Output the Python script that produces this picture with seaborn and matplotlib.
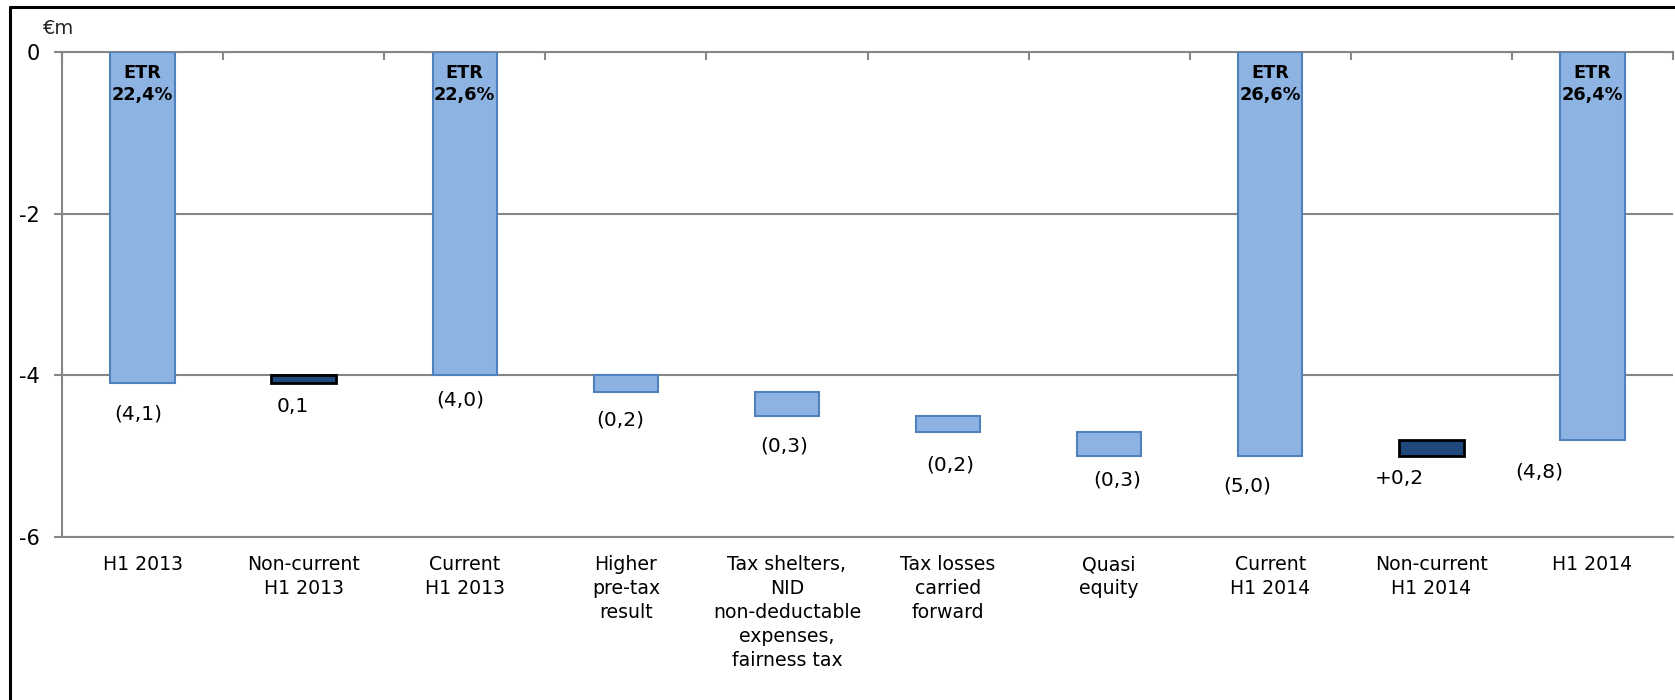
import matplotlib
matplotlib.use("Agg")
import numpy as np
import pandas as pd
import seaborn as sns
import matplotlib.pyplot as plt
from matplotlib.lines import Line2D

# ---------------- data ----------------
categories = [
    "H1 2013",
    "Non-current\nH1 2013",
    "Current\nH1 2013",
    "Higher\npre-tax\nresult",
    "Tax shelters,\nNID\nnon-deductable\nexpenses,\nfairness tax",
    "Tax losses\ncarried\nforward",
    "Quasi\nequity",
    "Current\nH1 2014",
    "Non-current\nH1 2014",
    "H1 2014",
]
start_values = [0, -4.1, 0, -4.0, -4.2, -4.5, -4.7, 0, -5.0, 0]
end_values = [-4.1, -4.0, -4.0, -4.2, -4.5, -4.7, -5.0, -5.0, -4.8, -4.8]
bar_kinds = ["light", "dark", "light", "light", "light", "light", "light", "light", "dark", "light"]
value_labels = ["(4,1)", "0,1", "(4,0)", "(0,2)", "(0,3)", "(0,2)", "(0,3)", "(5,0)", "+0,2", "(4,8)"]
etr_labels = ["ETR\n22,4%", "", "ETR\n22,6%", "", "", "", "", "ETR\n26,6%", "", "ETR\n26,4%"]
y_ticks = [0, -2, -4, -6]
y_tick_labels = ["0", "-2", "-4", "-6"]
unit_label = "€m"

# ---------------- layout / style ----------------
W, H = 1675, 700
PX = 0.72  # points per pixel at dpi 100
label_dx_px = [-4, -11, -5, -6, -3, 2, 8, -23, -32, -53]
label_dy_px = [31, 23, 25, 28, 30, 33, 24, 30, 22, 32]
fill_colors = {"light": "#8DB3E2", "dark": "#1F497D"}
edge_colors = {"light": "#4F81BD", "dark": "#000000"}
grey = "#868686"

df = pd.DataFrame({
    "category": categories,
    "change": np.subtract(end_values, start_values),
})

sns.set_theme(style="white")
plt.rcParams["font.family"] = ["DejaVu Sans"]

fig = plt.figure(figsize=(W / 100, H / 100), dpi=100)
ax = fig.add_axes([62 / W, 1 - 537 / H, (1673 - 62) / W, (537 - 52) / H])

sns.barplot(
    data=df, x="category", y="change", order=categories,
    bottom=start_values, width=0.4, errorbar=None, ax=ax,
    color=fill_colors["light"], linewidth=1.5, zorder=3,
)
for patch, kind in zip(ax.patches, bar_kinds):
    patch.set_facecolor(fill_colors[kind])
    patch.set_edgecolor(edge_colors[kind])
    patch.set_linewidth(1.5 if kind == "light" else 2.0)

ax.set_xlim(-0.5, len(categories) - 0.5)
ax.set_ylim(min(y_ticks), max(y_ticks))
ax.set_yticks(y_ticks)
ax.set_yticklabels(y_tick_labels)
ax.set_xlabel("")
ax.set_ylabel("")

ax.yaxis.grid(True, color=grey, linewidth=1.5)
ax.xaxis.grid(False)
ax.set_axisbelow(True)

for side in ["top", "bottom", "left"]:
    ax.spines[side].set_visible(True)
    ax.spines[side].set_color(grey)
    ax.spines[side].set_linewidth(1.5)
ax.spines["right"].set_visible(False)

ax.set_xticks(np.arange(-0.5, len(categories), 1), minor=True)
ax.tick_params(axis="x", which="major", length=0, pad=13, labelsize=13.6, labelcolor="black")
ax.tick_params(axis="x", which="minor", top=True, bottom=False, direction="in",
               length=5.5, width=1.5, color=grey)
ax.tick_params(axis="y", which="major", left=True, length=5.8, width=1.5, color=grey,
               pad=10, labelsize=15, labelcolor="black")
for lbl in ax.get_xticklabels():
    lbl.set_linespacing(1.33)

# value labels below each bar
for i, (s, e) in enumerate(zip(start_values, end_values)):
    low = min(s, e)
    ax.annotate(value_labels[i], xy=(i, low),
                xytext=(label_dx_px[i] * PX, -label_dy_px[i] * PX),
                textcoords="offset points", ha="center", va="center",
                fontsize=14.5, color="black", zorder=5)

# ETR labels inside the total bars
for i, txt in enumerate(etr_labels):
    if txt:
        ax.annotate(txt, xy=(i, max(start_values[i], end_values[i])),
                    xytext=(0, -12 * PX), textcoords="offset points",
                    ha="center", va="top", fontsize=12.8, fontweight="bold",
                    linespacing=1.3, color="black", zorder=5)

fig.text(58.5 / W, 1 - 28 / H, unit_label, ha="center", va="center", fontsize=14)

# outer frame (left and top edges visible)
fig.add_artist(Line2D([10 / W, 10 / W], [0, 1 - 7 / H], color="black", lw=2.2,
                      transform=fig.transFigure))
fig.add_artist(Line2D([10 / W, 1], [1 - 7 / H, 1 - 7 / H], color="black", lw=2.2,
                      transform=fig.transFigure))

fig.savefig("out.png", dpi=100)
